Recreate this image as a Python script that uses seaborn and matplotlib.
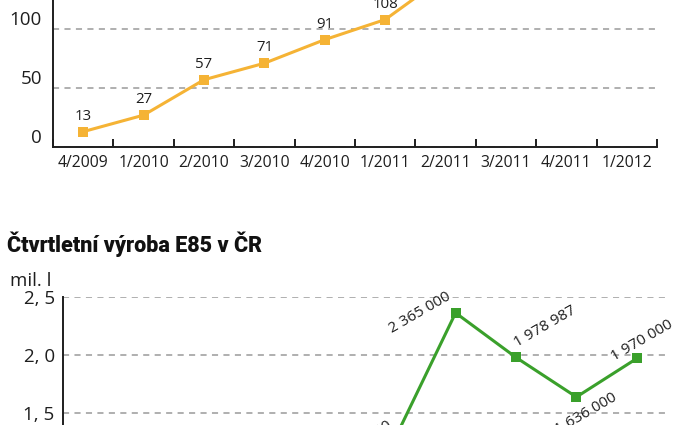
import numpy as np
import pandas as pd
import matplotlib
matplotlib.use("Agg")
import matplotlib.pyplot as plt
import seaborn as sns

# ---------------- data ----------------
quarters = ["4/2009", "1/2010", "2/2010", "3/2010", "4/2010",
            "1/2011", "2/2011", "3/2011", "4/2011", "1/2012"]
top_values = [13, 27, 57, 71, 91, 108, 145, np.nan, np.nan, np.nan]
top_yticks = [0, 50, 100, 150]
top_ytick_labels = ["0", "50", "100", "150"]

e85_mil_l = [np.nan, np.nan, np.nan, np.nan, np.nan,
             1.28, 2.365, 1.978987, 1.636, 1.970]
bottom_yticks = [0.5, 1.0, 1.5, 2.0, 2.5]
bottom_ytick_labels = ["0, 5", "1, 0", "1, 5", "2, 0", "2, 5"]
bottom_title = "Čtvrtletní výroba E85 v ČR"
bottom_unit = "mil. l"

# ---------------- style ----------------
ORANGE = "#F5B335"
GREEN = "#3AA02B"
GRID = "#9a9a9a"
INK = "#1e1e1e"

sns.set_theme(style="white")
plt.rcParams["font.family"] = ["Open Sans", "DejaVu Sans"]

W, H = 690, 425
fig = plt.figure(figsize=(6.9, 4.25), dpi=100)


def px_axes(left, right, top_y, bottom_y):
    return fig.add_axes([left / W, (H - bottom_y) / H,
                         (right - left) / W, (bottom_y - top_y) / H])


x = np.arange(len(quarters))

# ---------------- top chart ----------------
top_ylim = (0, 160)
ax1 = px_axes(53, 657, 147 - 1.18 * top_ylim[1], 147)
df1 = pd.DataFrame({"x": x, "v": top_values})
sns.lineplot(data=df1, x="x", y="v", ax=ax1, color=ORANGE, lw=2.2,
             marker="s", markersize=7, markeredgewidth=0, zorder=3)
ax1.set_xlim(-0.5, len(quarters) - 0.5)
ax1.set_ylim(*top_ylim)
ax1.set_xlabel("")
ax1.set_ylabel("")
ax1.set_xticks(x)
ax1.set_xticklabels(quarters, fontsize=11.3, color=INK)
ax1.set_xticks(np.arange(len(quarters) + 1) - 0.5, minor=True)
ax1.tick_params(axis="x", which="major", length=0, pad=6)
ax1.tick_params(axis="x", which="minor", direction="in", length=6,
                width=1.4, color=INK, bottom=True)
ax1.set_yticks(top_yticks)
ax1.set_yticklabels(top_ytick_labels, fontsize=13.5, color=INK)
ax1.tick_params(axis="y", length=0, pad=8)
for lab in ax1.get_yticklabels():
    lab.set_verticalalignment("bottom")
ax1.yaxis.grid(True, color=GRID, ls=(0, (4, 3.5)), lw=1.1)
ax1.xaxis.grid(False)
ax1.set_axisbelow(True)
for s in ["top", "right"]:
    ax1.spines[s].set_visible(False)
for s in ["left", "bottom"]:
    ax1.spines[s].set_color(INK)
    ax1.spines[s].set_linewidth(1.4)
for xi, v in zip(x, top_values):
    if not np.isnan(v):
        ax1.annotate(f"{v:g}", (xi, v), xytext=(0, 12),
                     textcoords="offset pixels", ha="center", va="baseline",
                     fontsize=10.8, color=INK, annotation_clip=False)

# ---------------- bottom chart ----------------
bottom_ylim = (0, 2.5)
ax2 = px_axes(63, 667, 297.3, 297.3 + 115.4 * bottom_ylim[1])
df2 = pd.DataFrame({"x": x, "v": e85_mil_l})
sns.lineplot(data=df2, x="x", y="v", ax=ax2, color=GREEN, lw=2.2,
             marker="s", markersize=7, markeredgewidth=0, zorder=3)
ax2.set_xlim(-0.5, len(quarters) - 0.5)
ax2.set_ylim(*bottom_ylim)
ax2.set_xlabel("")
ax2.set_ylabel("")
ax2.set_xticks([])
ax2.set_yticks(bottom_yticks)
ax2.set_yticklabels(bottom_ytick_labels, fontsize=13.5, color=INK)
ax2.tick_params(axis="y", length=0, pad=6)
ax2.yaxis.grid(True, color=GRID, ls=(0, (4, 3.5)), lw=1.1)
ax2.xaxis.grid(False)
ax2.set_axisbelow(True)
for s in ["top", "right"]:
    ax2.spines[s].set_visible(False)
for s in ["left", "bottom"]:
    ax2.spines[s].set_color(INK)
    ax2.spines[s].set_linewidth(1.4)

label_offsets_px = {5: (-34, 4), 6: (-36, 0), 7: (29, -31),
                    8: (10, 17), 9: (5, -18)}
for xi, v in zip(x, e85_mil_l):
    if not np.isnan(v):
        txt = f"{int(round(v * 1e6)):,}".replace(",", " ")
        dx, dy = label_offsets_px.get(int(xi), (0, -18))
        ax2.annotate(txt, (xi, v), xytext=(dx, -dy),
                     textcoords="offset pixels", ha="center", va="center",
                     rotation=30, rotation_mode="anchor",
                     fontsize=11, color=INK, annotation_clip=False)

fig.text(7 / W, (H - 252) / H, bottom_title, fontsize=15.5,
         fontweight=900, family=["Roboto", "DejaVu Sans"],
         color="#111111", ha="left", va="baseline")
fig.text(10 / W, (H - 286) / H, bottom_unit, fontsize=13.5, color=INK,
         ha="left", va="baseline")

fig.savefig("out.png", dpi=100)
